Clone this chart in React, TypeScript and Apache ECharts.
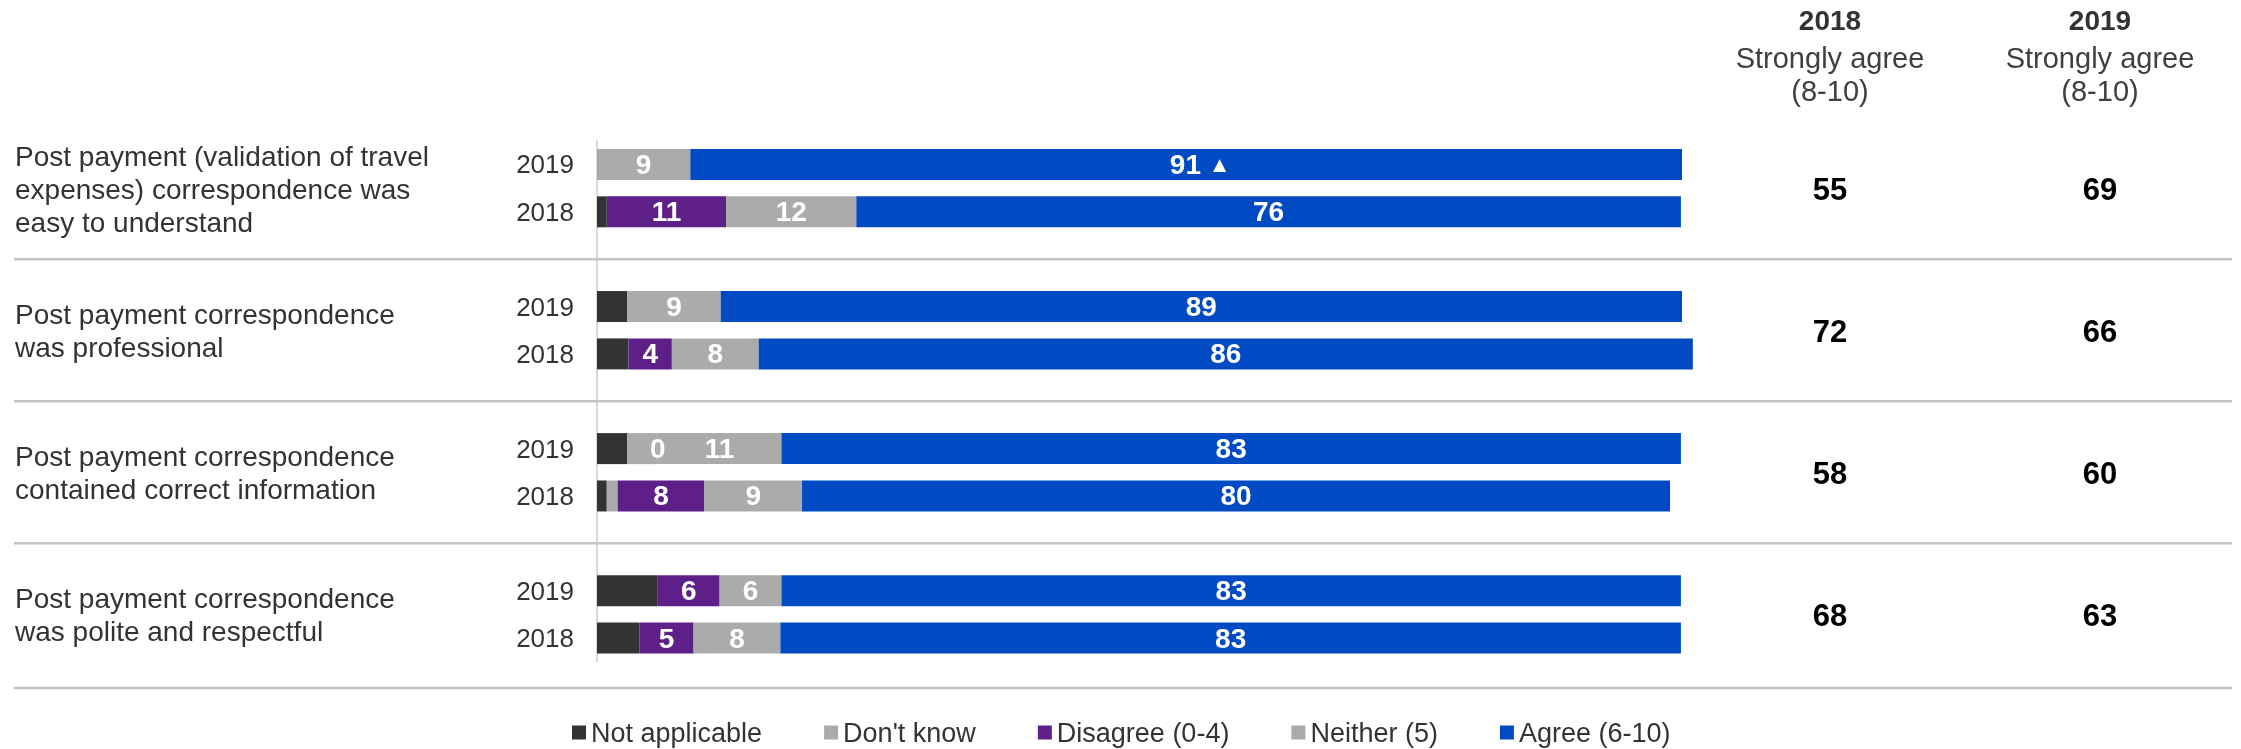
import React, { useEffect, useRef } from "react";
import * as echarts from "echarts";

const QUESTIONS = [
  "Post payment (validation of travel\nexpenses) correspondence was\neasy to understand",
  "Post payment correspondence\nwas professional",
  "Post payment correspondence\ncontained correct information",
  "Post payment correspondence\nwas polite and respectful",
];
const YEARS = ["2019", "2018"];

const SERIES_NAMES = ["Not applicable", "Don't know", "Disagree (0-4)", "Neither (5)", "Agree (6-10)"];
const SERIES_COLORS = ["#333333", "#ABABAB", "#5E1F88", "#ABABAB", "#004BC4"];

// values per question, [2019], [2018]
const NOT_APPLICABLE_2019 = [0, 2.8, 2.8, 5.6];
const NOT_APPLICABLE_2018 = [0.9, 2.9, 0.9, 3.9];
const DONT_KNOW_2019 = [0, 0, 2.8, 0];
const DONT_KNOW_2018 = [0, 0, 1.0, 0];
const DISAGREE_2019: (number | null)[] = [null, null, 0, 5.7];
const DISAGREE_2018 = [11.0, 4.0, 8.0, 5.0];
const NEITHER_2019 = [8.6, 8.6, 11.4, 5.7];
const NEITHER_2018 = [12.0, 8.0, 9.0, 8.0];
const AGREE_2019 = [91.4, 88.6, 82.9, 82.9];
const AGREE_2018 = [76.0, 86.1, 80.0, 83.0];
const AGREE_SIG_UP_2019 = [true, false, false, false];

const STRONGLY_AGREE_2018 = [55, 72, 58, 68];
const STRONGLY_AGREE_2019 = [69, 66, 60, 63];
const HEADER_YEARS = ["2018", "2019"];
const HEADER_SUB = "Strongly agree\n(8-10)";

const FONT = "'Liberation Sans', Arial, Helvetica, sans-serif";

function buildCategories() {
  const cats: string[] = [];
  QUESTIONS.forEach((_, q) => {
    YEARS.forEach((y) => cats.push(`${q}|${y}`));
    if (q < QUESTIONS.length - 1) cats.push(`sep${q}`);
  });
  return cats;
}

function buildData(a2019: (number | null)[], a2018: (number | null)[], sig?: boolean[]) {
  const out: any[] = [];
  QUESTIONS.forEach((_, q) => {
    const v19 = a2019[q];
    const v18 = a2018[q];
    out.push(v19 === null || v19 === undefined ? "-" : { value: v19, sig: sig ? sig[q] : false });
    out.push(v18 === null || v18 === undefined ? "-" : { value: v18, sig: false });
    if (q < QUESTIONS.length - 1) out.push("-");
  });
  return out;
}

export default function App() {
  const ref = useRef<HTMLDivElement>(null);

  useEffect(() => {
    if (!ref.current) return;
    const chart = echarts.init(ref.current, undefined, { renderer: "svg" });
    const categories = buildCategories();

    const dataSets = [
      buildData(NOT_APPLICABLE_2019, NOT_APPLICABLE_2018),
      buildData(DONT_KNOW_2019, DONT_KNOW_2018),
      buildData(DISAGREE_2019, DISAGREE_2018),
      buildData(NEITHER_2019, NEITHER_2018),
      buildData(AGREE_2019, AGREE_2018, AGREE_SIG_UP_2019),
    ];
    const showLabel = [false, false, true, true, true];

    const series = SERIES_NAMES.map((name, i) => ({
      name,
      type: "bar",
      stack: "total",
      barWidth: 31,
      clip: false,
      itemStyle: { color: SERIES_COLORS[i] },
      label: {
        show: showLabel[i],
        position: "inside",
        color: "#fff",
        fontWeight: "bold",
        fontSize: 28,
        fontFamily: FONT,
        formatter: (p: any) => {
          const v = Math.round(p.value);
          return p.data && p.data.sig ? `{v|${v}} {t|▲}` : `{v|${v}}`;
        },
        rich: {
          v: { color: "#fff", fontWeight: "bold", fontSize: 28, fontFamily: FONT },
          t: { color: "#fff", fontSize: 22, fontFamily: FONT },
        },
      },
      emphasis: { disabled: true },
      data: dataSets[i].map((d: any) =>
        d !== "-" && d.sig ? { ...d, label: { offset: [14, 0] } } : d
      ),
    }));

    chart.setOption({
      animation: false,
      textStyle: { fontFamily: FONT },
      grid: { left: 597, top: 140.8, height: 520.9, width: 1193.5 },
      xAxis: { type: "value", min: 0, max: 110, show: false },
      yAxis: {
        type: "category",
        inverse: true,
        data: categories,
        axisTick: { show: false },
        axisLine: { show: true, lineStyle: { color: "#D9D9D9", width: 2 } },
        axisLabel: {
          margin: 23,
          fontSize: 26,
          color: "#333",
          fontFamily: FONT,
          formatter: (v: string) => (v.indexOf("|") >= 0 ? v.split("|")[1] : ""),
        },
        splitLine: { show: false },
      },
      legend: {
        data: SERIES_NAMES,
        left: 567,
        top: 714,
        icon: "rect",
        itemWidth: 14,
        itemHeight: 14,
        itemGap: 62,
        selectedMode: false,
        textStyle: { fontSize: 27, color: "#333", fontFamily: FONT },
      },
      series,
    });

    const px = (cat: string) => chart.convertToPixel({ yAxisIndex: 0 }, cat) as number;
    const graphics: any[] = [];
    const colX = [1830, 2100];

    HEADER_YEARS.forEach((y, i) => {
      graphics.push({
        type: "text",
        x: colX[i],
        y: 20,
        style: {
          text: y,
          fontSize: 28,
          fontWeight: "bold",
          fontFamily: FONT,
          fill: "#333",
          textAlign: "center",
          textVerticalAlign: "middle",
        },
      });
      graphics.push({
        type: "text",
        x: colX[i],
        y: 74,
        style: {
          text: HEADER_SUB,
          fontSize: 29,
          lineHeight: 33,
          fontFamily: FONT,
          fill: "#404040",
          textAlign: "center",
          textVerticalAlign: "middle",
        },
      });
    });

    QUESTIONS.forEach((qText, q) => {
      const y1 = px(`${q}|2019`);
      const y2 = px(`${q}|2018`);
      const mid = (y1 + y2) / 2;
      graphics.push({
        type: "text",
        x: 15,
        y: mid + 1,
        style: {
          text: qText,
          fontSize: 28,
          lineHeight: 33,
          fontFamily: FONT,
          fill: "#333",
          textAlign: "left",
          textVerticalAlign: "middle",
        },
      });
      [STRONGLY_AGREE_2018[q], STRONGLY_AGREE_2019[q]].forEach((v, i) => {
        graphics.push({
          type: "text",
          x: colX[i],
          y: mid + 1,
          style: {
            text: String(v),
            fontSize: 31,
            fontWeight: "bold",
            fontFamily: FONT,
            fill: "#000",
            textAlign: "center",
            textVerticalAlign: "middle",
          },
        });
      });
      const sepY = q < QUESTIONS.length - 1 ? px(`sep${q}`) : y2 + 50;
      graphics.push({
        type: "line",
        shape: { x1: 14, y1: sepY, x2: 2232, y2: sepY },
        style: { stroke: "#C4C4C4", lineWidth: 2.5 },
        z: 10,
      });
    });

    chart.setOption({ graphic: graphics });

    return () => chart.dispose();
  }, []);

  return (
    <div
      ref={ref}
      style={{ position: "fixed", left: 0, top: 0, width: 2241, height: 749 }}
    />
  );
}
